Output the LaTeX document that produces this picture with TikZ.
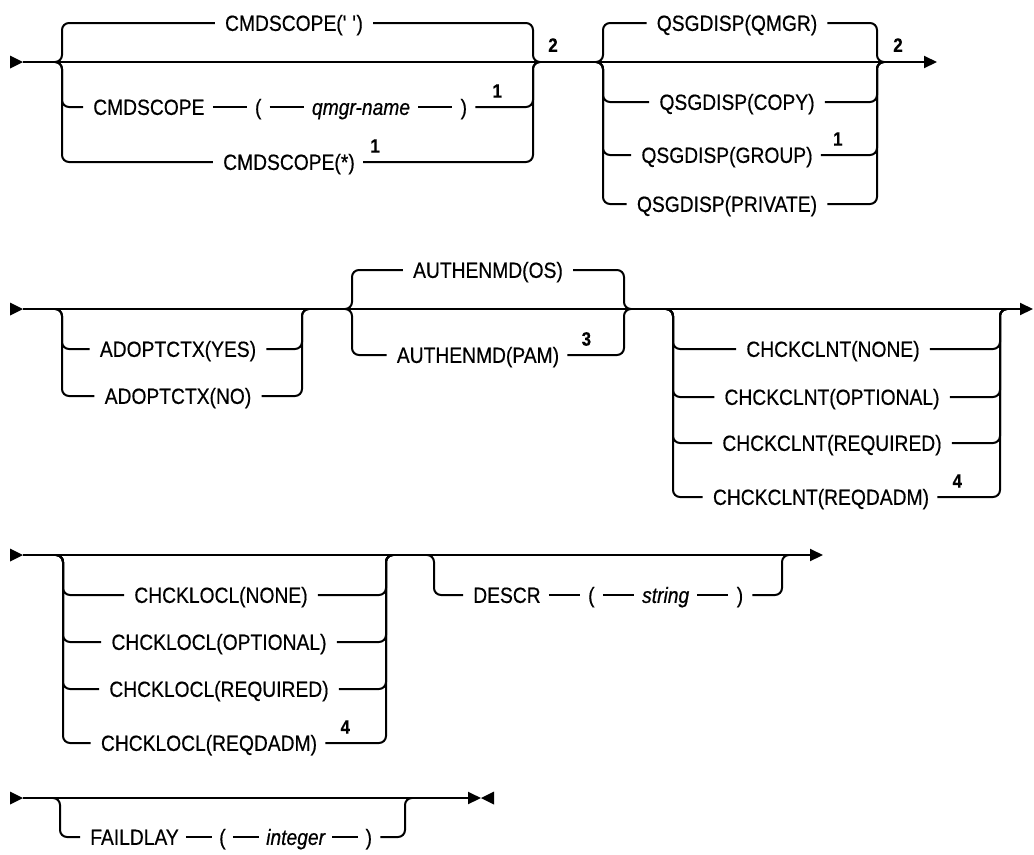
\documentclass[tikz,border=0pt]{standalone}
\usepackage{fontspec}
\setmainfont{Liberation Sans}[FakeStretch=0.875, FakeBold=0.5]
\usetikzlibrary{arrows.meta,calc,positioning}
\begin{document}
\begin{tikzpicture}[x=0.75pt,y=-0.75pt,
  ln/.style={line width=1.5pt, rounded corners=5.25pt},
  term/.style={inner sep=0pt, text height=11.8pt, text depth=0pt, font=\fontsize{16.5}{19}\selectfont},
  var/.style={term, font=\fontsize{16.5}{19}\selectfont\itshape},
  sup/.style={inner sep=0pt, font=\fontsize{14.5}{16}\selectfont\bfseries},
  endarrow/.style={-{Triangle[length=9.75pt,width=9pt]}},
  startmark/.style={fill=black}]
\useasboundingbox (0,0) rectangle (1034,854);

% ================= Row 1 =================
\coordinate (r1s) at (23,62);
\coordinate (r1e) at (937,62);
\fill[startmark] (10,55.5) -- (r1s) -- (10,68.5) -- cycle;
\draw[ln, endarrow] (r1s) -- (r1e);

% CMDSCOPE choice
\coordinate (cL) at (62,62);
\coordinate (cR) at (533,62);
\node[term] (c0) at (294,23) {CMDSCOPE(\textquotesingle\ \textquotesingle)};
\draw[ln] ($(c0.west)+(-10,0)$) -| (cL) -- ++(-7,0);
\draw[ln] ($(c0.east)+(10,0)$) -| (cR) -- ++(7,0);

\node[term, anchor=west] (c1a) at (93,107) {CMDSCOPE};
\node[term, right=37.5pt of c1a] (c1b) {(};
\node[var, right=37.5pt of c1b] (c1c) {qmgr-name};
\node[term, right=37.5pt of c1c] (c1d) {)};
\draw[ln] ($(c1a.east)+(8,0)$) -- ($(c1b.west)+(-8,0)$);
\draw[ln] ($(c1b.east)+(8,0)$) -- ($(c1c.west)+(-8,0)$);
\draw[ln] ($(c1c.east)+(8,0)$) -- ($(c1d.west)+(-8,0)$);
\draw[ln] ($(c1a.west)+(-10,0)$) -| (cL) -- ++(-7,0);
\draw[ln] ($(c1d.east)+(8,0)$) -| (cR) -- ++(7,0);
\node[sup] (c1n) at ($(c1d.east)+(30,-16)$) {1};

\node[term] (c2) at (289,162) {CMDSCOPE(*)};
\draw[ln] ($(c2.west)+(-10,0)$) -| (cL) -- ++(-7,0);
\draw[ln] ($(c2.east)+(8,0)$) -| (cR) -- ++(7,0);
\node[sup] (c2n) at ($(c2.east)+(20,-16)$) {1};

\node[sup] (n2a) at (553,45) {2};

% QSGDISP choice
\coordinate (qL) at (603,62);
\coordinate (qR) at (877,62);
\node[term] (q0) at (737,23) {QSGDISP(QMGR)};
\draw[ln] ($(q0.west)+(-10,0)$) -| (qL) -- ++(-7,0);
\draw[ln] ($(q0.east)+(10,0)$) -| (qR) -- ++(7,0);
\node[term] (q1) at (737,102) {QSGDISP(COPY)};
\draw[ln] ($(q1.west)+(-10,0)$) -| (qL) -- ++(-7,0);
\draw[ln] ($(q1.east)+(10,0)$) -| (qR) -- ++(7,0);
\node[term] (q2) at (727,155) {QSGDISP(GROUP)};
\draw[ln] ($(q2.west)+(-10,0)$) -| (qL) -- ++(-7,0);
\draw[ln] ($(q2.east)+(8,0)$) -| (qR) -- ++(7,0);
\node[sup] (q2n) at ($(q2.east)+(25,-16)$) {1};
\node[term] (q3) at (727,204) {QSGDISP(PRIVATE)};
\draw[ln] ($(q3.west)+(-10,0)$) -| (qL) -- ++(-7,0);
\draw[ln] ($(q3.east)+(10,0)$) -| (qR) -- ++(7,0);

\node[sup] (n2b) at (898,45) {2};

% ================= Row 2 =================
\coordinate (r2s) at (23,309);
\coordinate (r2e) at (1033,309);
\fill[startmark] (10,302.5) -- (r2s) -- (10,315.5) -- cycle;
\draw[ln, endarrow] (r2s) -- (r2e);

% ADOPTCTX optional
\coordinate (aL) at (62,309);
\coordinate (aR) at (302,309);
\node[term] (a1) at (178,349) {ADOPTCTX(YES)};
\draw[ln] ($(a1.west)+(-10,0)$) -| (aL) -- ++(-7,0);
\draw[ln] ($(a1.east)+(10,0)$) -| (aR) -- ++(7,0);
\node[term] (a2) at (178,396) {ADOPTCTX(NO)};
\draw[ln] ($(a2.west)+(-10,0)$) -| (aL) -- ++(-7,0);
\draw[ln] ($(a2.east)+(10,0)$) -| (aR) -- ++(7,0);

% AUTHENMD choice
\coordinate (uL) at (352,309);
\coordinate (uR) at (624,309);
\node[term] (u0) at (488,270) {AUTHENMD(OS)};
\draw[ln] ($(u0.west)+(-10,0)$) -| (uL) -- ++(-7,0);
\draw[ln] ($(u0.east)+(10,0)$) -| (uR) -- ++(7,0);
\node[term] (u1) at (478,355) {AUTHENMD(PAM)};
\draw[ln] ($(u1.west)+(-10,0)$) -| (uL) -- ++(-7,0);
\draw[ln] ($(u1.east)+(8,0)$) -| (uR) -- ++(7,0);
\node[sup] (u1n) at ($(u1.east)+(27,-16)$) {3};

% CHCKCLNT optional
\coordinate (kL) at (673,309);
\coordinate (kR) at (1000,309);
\node[term] (k1) at (833,349) {CHCKCLNT(NONE)};
\draw[ln] ($(k1.west)+(-10,0)$) -| (kL) -- ++(-7,0);
\draw[ln] ($(k1.east)+(10,0)$) -| (kR) -- ++(7,0);
\node[term] (k2) at (832,397) {CHCKCLNT(OPTIONAL)};
\draw[ln] ($(k2.west)+(-10,0)$) -| (kL) -- ++(-7,0);
\draw[ln] ($(k2.east)+(10,0)$) -| (kR) -- ++(7,0);
\node[term] (k3) at (832,443) {CHCKCLNT(REQUIRED)};
\draw[ln] ($(k3.west)+(-10,0)$) -| (kL) -- ++(-7,0);
\draw[ln] ($(k3.east)+(10,0)$) -| (kR) -- ++(7,0);
\node[term] (k4) at (821,497) {CHCKCLNT(REQDADM)};
\draw[ln] ($(k4.west)+(-10,0)$) -| (kL) -- ++(-7,0);
\draw[ln] ($(k4.east)+(8,0)$) -| (kR) -- ++(7,0);
\node[sup] (k4n) at ($(k4.east)+(28,-16)$) {4};

% ================= Row 3 =================
\coordinate (r3s) at (23,555);
\coordinate (r3e) at (823,555);
\fill[startmark] (10,548.5) -- (r3s) -- (10,561.5) -- cycle;
\draw[ln, endarrow] (r3s) -- (r3e);

% CHCKLOCL optional
\coordinate (lL) at (63,555);
\coordinate (lR) at (386,555);
\node[term] (l1) at (221,595) {CHCKLOCL(NONE)};
\draw[ln] ($(l1.west)+(-10,0)$) -| (lL) -- ++(-7,0);
\draw[ln] ($(l1.east)+(10,0)$) -| (lR) -- ++(7,0);
\node[term] (l2) at (219,642) {CHCKLOCL(OPTIONAL)};
\draw[ln] ($(l2.west)+(-10,0)$) -| (lL) -- ++(-7,0);
\draw[ln] ($(l2.east)+(10,0)$) -| (lR) -- ++(7,0);
\node[term] (l3) at (219,689) {CHCKLOCL(REQUIRED)};
\draw[ln] ($(l3.west)+(-10,0)$) -| (lL) -- ++(-7,0);
\draw[ln] ($(l3.east)+(10,0)$) -| (lR) -- ++(7,0);
\node[term] (l4) at (209,743) {CHCKLOCL(REQDADM)};
\draw[ln] ($(l4.west)+(-10,0)$) -| (lL) -- ++(-7,0);
\draw[ln] ($(l4.east)+(8,0)$) -| (lR) -- ++(7,0);
\node[sup] (l4n) at ($(l4.east)+(28,-16)$) {4};

% DESCR optional
\coordinate (dL) at (434,555);
\coordinate (dR) at (782,555);
\node[term, anchor=west] (d1) at (473,595) {DESCR};
\node[term, right=35.25pt of d1] (d2) {(};
\node[var, right=35.25pt of d2] (d3) {string};
\node[term, right=35.25pt of d3] (d4) {)};
\draw[ln] ($(d1.east)+(8,0)$) -- ($(d2.west)+(-8,0)$);
\draw[ln] ($(d2.east)+(8,0)$) -- ($(d3.west)+(-8,0)$);
\draw[ln] ($(d3.east)+(8,0)$) -- ($(d4.west)+(-8,0)$);
\draw[ln] ($(d1.west)+(-10,0)$) -| (dL) -- ++(-7,0);
\draw[ln] ($(d4.east)+(9,0)$) -| (dR) -- ++(7,0);

% ================= Row 4 =================
\coordinate (r4s) at (23,798);
\coordinate (r4e) at (481,798);
\fill[startmark] (10,791.5) -- (r4s) -- (10,804.5) -- cycle;
\draw[ln, endarrow] (r4s) -- (r4e);
\fill[startmark] (494,791.5) -- (r4e) -- (494,804.5) -- cycle;

\coordinate (fL) at (60,798);
\coordinate (fR) at (405,798);
\node[term, anchor=west] (f1) at (90,837) {FAILDLAY};
\node[term, right=30pt of f1] (f2) {(};
\node[var, right=30pt of f2] (f3) {integer};
\node[term, right=30pt of f3] (f4) {)};
\draw[ln] ($(f1.east)+(7,0)$) -- ($(f2.west)+(-7,0)$);
\draw[ln] ($(f2.east)+(7,0)$) -- ($(f3.west)+(-7,0)$);
\draw[ln] ($(f3.east)+(7,0)$) -- ($(f4.west)+(-7,0)$);
\draw[ln] ($(f1.west)+(-10,0)$) -| (fL) -- ++(-7,0);
\draw[ln] ($(f4.east)+(8,0)$) -| (fR) -- ++(7,0);
\end{tikzpicture}
\end{document}
